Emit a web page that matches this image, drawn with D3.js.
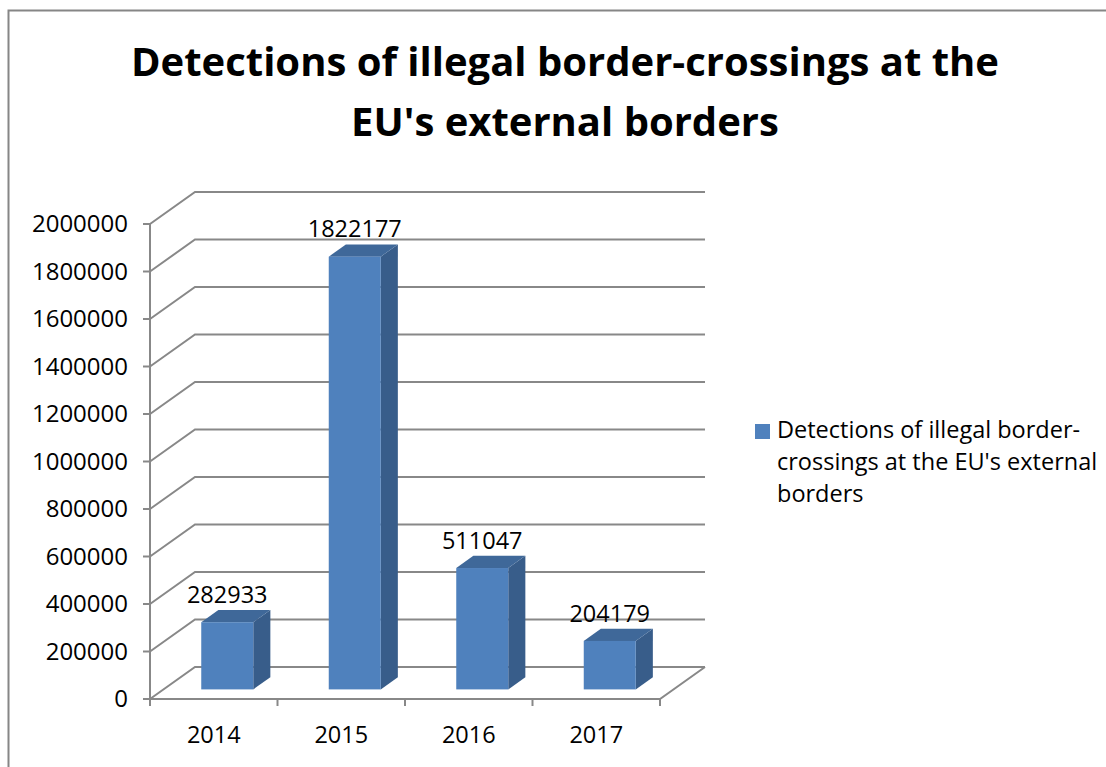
<!DOCTYPE html>
<html>
<head>
<meta charset="utf-8">
<script src="https://cdn.jsdelivr.net/npm/d3@7"></script>
<style>
  body { margin: 0; background: #fff; }
  svg text { font-family: "Open Sans", "DejaVu Sans", sans-serif; fill: #000; }
</style>
</head>
<body>
<script>
var years  = ["2014", "2015", "2016", "2017"];
var values = [282933, 1822177, 511047, 204179];
var yTicks = [0, 200000, 400000, 600000, 800000, 1000000, 1200000, 1400000, 1600000, 1800000, 2000000];
var titleLines  = ["Detections of illegal border-crossings at the", "EU's external borders"];
var legendLines = ["Detections of illegal border-", "crossings at the EU's external", "borders"];

var w = 1106, h = 767;

// front plane scales, depth goes back/up-right
var x = d3.scaleBand().domain(years).range([150, 660]);
var y = d3.scaleLinear().domain([0, 2000000]).range([699, 224]);
var depthX = 45, depthY = -32;
var zFront = 0.3, zBack = 0.68, barW = 52;

function px(xv, z) { return xv + depthX * z; }
function py(yv, z) { return yv + depthY * z; }

var svg = d3.select("body").append("svg")
  .attr("width", w)
  .attr("height", h);

// chart frame
svg.append("path")
  .attr("d", "M8.5," + (h + 5) + "V10.5H" + (w + 5))
  .attr("fill", "none")
  .attr("stroke", "#868686")
  .attr("stroke-width", 2);

// title
svg.selectAll("text.title")
  .data(titleLines)
  .enter()
  .append("text")
  .attr("class", "title")
  .attr("x", 565)
  .attr("y", function(d, i) { return 76 + i * 60; })
  .attr("text-anchor", "middle")
  .attr("font-size", "40px")
  .attr("font-weight", "bold")
  .text(function(d) { return d; });

var grid = "#888888";
var x0 = x.range()[0], x1 = x.range()[1];

// gridlines: side wall diagonal + back wall horizontal
svg.selectAll("path.grid")
  .data(yTicks)
  .enter()
  .append("path")
  .attr("class", "grid")
  .attr("fill", "none")
  .attr("stroke", grid)
  .attr("stroke-width", 2)
  .attr("d", function(d) {
    return "M" + x0 + "," + y(d) +
      "L" + px(x0, 1) + "," + py(y(d), 1) +
      "H" + px(x1, 1);
  });

// floor front edge and right edge
svg.append("path")
  .attr("fill", "none")
  .attr("stroke", grid)
  .attr("stroke-width", 2)
  .attr("d", "M" + x0 + "," + y(0) + "H" + x1 +
    "L" + px(x1, 1) + "," + py(y(0), 1));

// y axis
svg.append("g")
  .attr("class", "axis")
  .call(function(g) {
    g.append("line")
      .attr("x1", x0).attr("x2", x0)
      .attr("y1", y(2000000)).attr("y2", y(0) + 7)
      .attr("stroke", grid).attr("stroke-width", 2);
    var t = g.selectAll("g.tick").data(yTicks).enter().append("g")
      .attr("transform", function(d) { return "translate(0," + y(d) + ")"; });
    t.append("line")
      .attr("x1", x0 - 7).attr("x2", x0)
      .attr("stroke", grid).attr("stroke-width", 2);
    t.append("text")
      .attr("x", 128)
      .attr("dy", "0.35em")
      .attr("text-anchor", "end")
      .attr("font-size", "24px")
      .text(function(d) { return d; });
  });

// x axis ticks and labels
svg.selectAll("line.xtick")
  .data(years.concat(["end"]))
  .enter()
  .append("line")
  .attr("class", "xtick")
  .attr("x1", function(d, i) { return i < years.length ? x(d) : x1; })
  .attr("x2", function(d, i) { return i < years.length ? x(d) : x1; })
  .attr("y1", y(0))
  .attr("y2", y(0) + 7)
  .attr("stroke", grid)
  .attr("stroke-width", 2);

svg.selectAll("text.xlabel")
  .data(years)
  .enter()
  .append("text")
  .attr("class", "xlabel")
  .attr("x", function(d) { return x(d) + x.bandwidth() / 2; })
  .attr("y", 743)
  .attr("text-anchor", "middle")
  .attr("font-size", "23.5px")
  .text(function(d) { return d; });

// 3d bars
var bars = svg.selectAll("g.bar")
  .data(years.map(function(d, i) { return { year: d, value: values[i] }; }))
  .enter()
  .append("g")
  .attr("class", "bar");

function barPts(d) {
  var l = x(d.year) + x.bandwidth() / 2 - barW / 2, r = l + barW;
  var b = y(0), t = y(d.value);
  return { l: l, r: r, b: b, t: t };
}

// side
bars.append("path")
  .attr("fill", "#385D8A")
  .attr("d", function(d) {
    var p = barPts(d);
    return "M" + px(p.r, zFront) + "," + py(p.b, zFront) +
      "L" + px(p.r, zBack) + "," + py(p.b, zBack) +
      "L" + px(p.r, zBack) + "," + py(p.t, zBack) +
      "L" + px(p.r, zFront) + "," + py(p.t, zFront) + "Z";
  });

// top
bars.append("path")
  .attr("fill", "#3F6899")
  .attr("d", function(d) {
    var p = barPts(d);
    return "M" + px(p.l, zFront) + "," + py(p.t, zFront) +
      "L" + px(p.l, zBack) + "," + py(p.t, zBack) +
      "L" + px(p.r, zBack) + "," + py(p.t, zBack) +
      "L" + px(p.r, zFront) + "," + py(p.t, zFront) + "Z";
  });

// front
bars.append("rect")
  .attr("fill", "#4F81BD")
  .attr("x", function(d) { return px(barPts(d).l, zFront); })
  .attr("y", function(d) { return py(barPts(d).t, zFront); })
  .attr("width", barW)
  .attr("height", function(d) { var p = barPts(d); return p.b - p.t; });

// value labels
bars.append("text")
  .attr("x", function(d) { var p = barPts(d); return px(p.l, zFront) + barW / 2; })
  .attr("y", function(d) { return py(barPts(d).t, zBack) - 7; })
  .attr("text-anchor", "middle")
  .attr("font-size", "23.5px")
  .text(function(d) { return d.value; });

// legend
var legend = svg.append("g")
  .attr("transform", "translate(755,424)");

legend.append("rect")
  .attr("width", 15)
  .attr("height", 15)
  .attr("fill", "#4F81BD");

legend.selectAll("text")
  .data(legendLines)
  .enter()
  .append("text")
  .attr("x", 22)
  .attr("y", function(d, i) { return 14 + i * 32; })
  .attr("font-size", "23.5px")
  .text(function(d) { return d; });
</script>
</body>
</html>
